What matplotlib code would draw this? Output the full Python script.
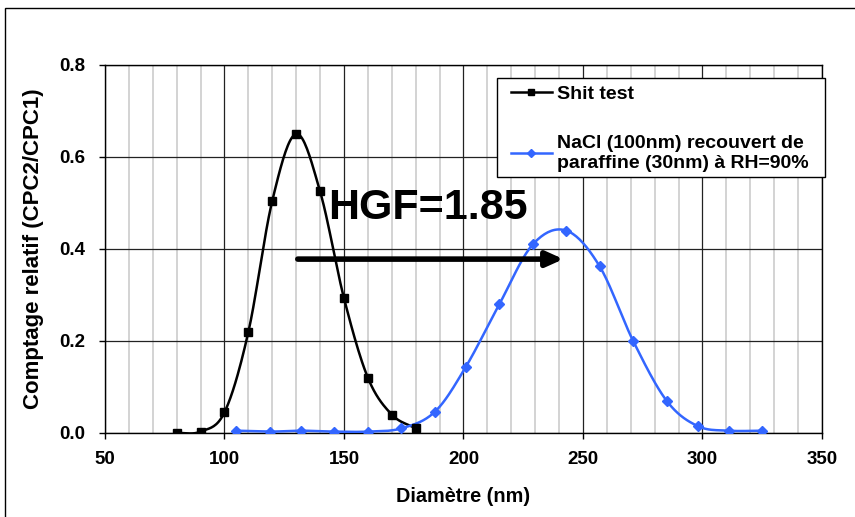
import matplotlib
matplotlib.use('Agg')

import numpy as np
import matplotlib.pyplot as plt
from matplotlib.patches import Rectangle

plt.rcParams['font.family'] = ['Liberation Sans', 'DejaVu Sans']

# data
shit_x = [80, 90, 100, 110, 120, 130, 140, 150, 160, 170, 180]
shit_y = [0.0, 0.003, 0.045, 0.22, 0.505, 0.65, 0.525, 0.293, 0.12, 0.04, 0.01]

nacl_x = [105, 119, 132, 146, 160, 174, 188, 201, 215, 229, 243, 257, 271, 285, 298, 311, 325]
nacl_y = [0.005, 0.003, 0.005, 0.003, 0.003, 0.01, 0.046, 0.144, 0.28, 0.41, 0.44,
          0.362, 0.2, 0.07, 0.015, 0.005, 0.005]

x_ticks = [50, 100, 150, 200, 250, 300, 350]
y_ticks = [0.0, 0.2, 0.4, 0.6, 0.8]


def smooth(xs, ys, n=20):
    # Catmull-Rom style smoothing like Excel's smoothed line
    xs = np.asarray(xs, float)
    ys = np.asarray(ys, float)
    px = np.concatenate([[2 * xs[0] - xs[1]], xs, [2 * xs[-1] - xs[-2]]])
    py = np.concatenate([[2 * ys[0] - ys[1]], ys, [2 * ys[-1] - ys[-2]]])
    ox, oy = [], []
    t = np.linspace(0, 1, n, endpoint=False)
    for i in range(1, len(px) - 2):
        for arr, out in ((px, ox), (py, oy)):
            p0, p1, p2, p3 = arr[i - 1], arr[i], arr[i + 1], arr[i + 2]
            out.extend(0.5 * ((2 * p1) + (-p0 + p2) * t
                              + (2 * p0 - 5 * p1 + 4 * p2 - p3) * t ** 2
                              + (-p0 + 3 * p1 - 3 * p2 + p3) * t ** 3))
    ox.append(xs[-1])
    oy.append(ys[-1])
    return ox, oy


fig = plt.figure(figsize=(8.55, 5.17), dpi=100)
ax = fig.add_axes([0.1228, 0.1625, 0.8386, 0.7118])

fig.patches.append(Rectangle((5 / 855, -0.1), 2, 1.1 - 8 / 517, transform=fig.transFigure,
                             fill=False, edgecolor='black', linewidth=1.0))

blue = '#3366ff'
sx, sy = smooth(shit_x, shit_y)
ax.plot(sx, sy, color='black', lw=1.8, zorder=3)
ax.plot(shit_x, shit_y, ls='none', marker='s', ms=6, color='black', zorder=4)
bx, by = smooth(nacl_x, nacl_y)
ax.plot(bx, by, color=blue, lw=1.8, zorder=3)
ax.plot(nacl_x, nacl_y, ls='none', marker='D', ms=5, color=blue, zorder=4)

# legend proxies
ax.plot([], [], color='black', lw=1.8, marker='s', ms=5, label='Shit test')
ax.plot([], [], color=blue, lw=1.8, marker='D', ms=4.5,
        label='NaCl (100nm) recouvert de\nparaffine (30nm) à RH=90%')

ax.set_xlim(50, 350)
ax.set_ylim(0, 0.8)
ax.set_xticks(x_ticks)
ax.set_xticks(np.arange(50, 351, 10), minor=True)
ax.set_yticks(y_ticks)
ax.set_yticklabels(['%.1f' % v for v in y_ticks])
ax.tick_params(which='minor', length=0)
ax.tick_params(which='major', length=4, width=1, direction='out', labelsize=13.5)
ax.tick_params(axis='x', pad=9)
ax.tick_params(axis='y', pad=10)
for lab in ax.get_xticklabels() + ax.get_yticklabels():
    lab.set_fontweight('bold')

ax.grid(which='minor', axis='x', color='#cccccc', lw=1.2, zorder=0)
ax.grid(which='major', color='#222222', lw=0.9, zorder=1)
for s in ax.spines.values():
    s.set_color('black')
    s.set_linewidth(1.0)

ax.set_xlabel('Diamètre (nm)', fontsize=14.3, fontweight='bold', labelpad=14)
ax.set_ylabel('Comptage relatif (CPC2/CPC1)', fontsize=16, fontweight='bold', labelpad=11)

ax.annotate('', xy=(243, 0.378), xytext=(129.5, 0.378),
            arrowprops=dict(arrowstyle='-|>,head_length=1.0,head_width=0.45',
                            color='black', lw=4), zorder=5)
ax.text(143.5, 0.49, 'HGF=1.85', fontsize=31, fontweight='bold', va='center', ha='left', zorder=5)

# legend box drawn separately so its padding matches the original
ax.add_patch(Rectangle((0.5467, 0.696), 0.4575, 0.269, transform=ax.transAxes,
                       facecolor='white', edgecolor='black', lw=1.0, zorder=6, clip_on=False))
leg = ax.legend(loc='upper left', bbox_to_anchor=(0.566, 0.944), frameon=False,
                labelspacing=1.63, handlelength=2.1, handletextpad=0.25,
                borderpad=0, borderaxespad=0,
                prop={'weight': 'bold', 'size': 14})
leg.set_zorder(7)

fig.savefig('out.png', dpi=100)
